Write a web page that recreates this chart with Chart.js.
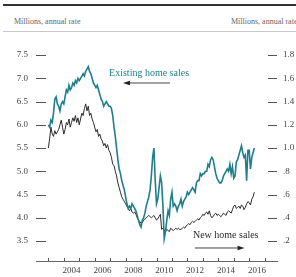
<!DOCTYPE html>
<html>
<head>
<meta charset="utf-8">
<script src="https://cdn.jsdelivr.net/npm/chart.js@4"></script>
<style>
html, body { margin: 0; padding: 0; background: #fff; }
#wrap { position: relative; width: 296px; height: 277px; overflow: hidden; }
#rule { position: absolute; left: 3px; right: 0; top: 4px; height: 2px; background: #333; }
#thin { position: absolute; left: 3px; right: 0; top: 31px; height: 1px; background: #c8c8c8; }
.unit { position: absolute; top: 17px; font: 8px "Liberation Serif", serif; color: #666; white-space: nowrap; }
canvas { position: absolute; left: 0; top: 0; }
</style>
</head>
<body>
<div id="wrap">
  <div id="rule"></div>
  <div class="unit" style="left:14px">Millions, annual rate</div>
  <div class="unit" style="left:231px">Millions, annual rate</div>
  <div id="thin"></div>
  <canvas id="salesChart" width="296" height="277"></canvas>
</div>
<script>
// ---------------- DATA ----------------

// monthly, starting January 2003
const firstYear = 2003;

// existing home sales, millions (left axis)
const existingSales = [
    6.00, 5.95, 6.10, 6.05, 6.25, 6.55, 6.60, 6.45, 6.40, 6.30, 6.45, 6.50,
    6.45, 6.60, 6.75, 6.70, 6.85, 6.75, 6.80, 6.90, 6.85, 6.95, 6.90, 7.00,
    6.95, 7.00, 7.05, 7.10, 7.05, 7.15, 7.20, 7.25, 7.15, 7.10, 7.00, 6.90,
    6.85, 6.80, 6.85, 6.75, 6.65, 6.55, 6.50, 6.40, 6.45, 6.50, 6.45, 6.40,
    6.40, 6.35, 6.20, 5.95, 5.75, 5.50, 5.25, 5.05, 4.95, 4.80, 4.70, 4.60,
    4.45, 4.30, 4.20, 4.25, 4.20, 4.30, 4.25, 4.20, 4.15, 4.05, 3.95, 3.85,
    3.80, 3.95, 4.00, 4.10, 4.25, 4.35, 4.45, 4.60, 4.90, 5.30, 5.50, 4.80,
    4.30, 4.40, 4.65, 4.90, 4.75, 4.25, 3.55, 3.70, 3.95, 4.15, 4.05, 4.40,
    4.55, 4.25, 4.30, 4.25, 4.15, 4.25, 4.30, 4.40, 4.25, 4.35, 4.40, 4.45,
    4.55, 4.50, 4.55, 4.60, 4.65, 4.60, 4.55, 4.75, 4.80, 4.80, 4.95, 4.90,
    4.95, 4.95, 5.00, 5.00, 5.15, 5.10, 5.25, 5.30, 5.25, 5.10, 4.95, 4.85,
    4.80, 4.75, 4.75, 4.80, 4.90, 4.95, 5.00, 5.05, 5.00, 5.15, 4.95, 5.10,
    4.85, 4.90, 5.20, 5.25, 5.35, 5.45, 5.55, 5.40, 5.30, 5.35, 4.80, 5.45,
    5.45, 5.05, 5.30, 5.40, 5.50
];

// new home sales, millions (right axis)
const newSales = [
    1.00, 1.08, 1.18, 1.12, 1.10, 1.15, 1.12, 1.14, 1.16, 1.20, 1.24, 1.18,
    1.12, 1.16, 1.22, 1.20, 1.25, 1.18, 1.22, 1.26, 1.23, 1.28, 1.22, 1.26,
    1.20, 1.25, 1.30, 1.28, 1.34, 1.38, 1.32, 1.36, 1.28, 1.30, 1.25, 1.22,
    1.18, 1.14, 1.16, 1.10, 1.12, 1.08, 1.06, 1.02, 1.04, 1.00, 1.03, 0.98,
    0.96, 0.92, 0.86, 0.85, 0.80, 0.76, 0.70, 0.66, 0.62, 0.58, 0.56, 0.54,
    0.52, 0.50, 0.48, 0.46, 0.48, 0.45, 0.44, 0.45, 0.43, 0.40, 0.38, 0.37,
    0.35, 0.36, 0.38, 0.39, 0.40, 0.41, 0.42, 0.41, 0.40, 0.41, 0.42, 0.40,
    0.38, 0.39, 0.41, 0.43, 0.30, 0.31, 0.29, 0.28, 0.30, 0.29, 0.28, 0.31,
    0.30, 0.29, 0.30, 0.31, 0.30, 0.31, 0.30, 0.30, 0.31, 0.32, 0.31, 0.33,
    0.34, 0.35, 0.34, 0.36, 0.37, 0.36, 0.37, 0.38, 0.39, 0.38, 0.40, 0.41,
    0.43, 0.42, 0.44, 0.45, 0.43, 0.46, 0.42, 0.40, 0.41, 0.43, 0.44, 0.42,
    0.43, 0.42, 0.41, 0.42, 0.44, 0.43, 0.42, 0.45, 0.46, 0.45, 0.44, 0.47,
    0.50, 0.51, 0.48, 0.49, 0.50, 0.48, 0.51, 0.50, 0.47, 0.49, 0.52, 0.54,
    0.53, 0.51, 0.56, 0.58, 0.62
];

const yearLabels = [2004, 2006, 2008, 2010, 2012, 2014, 2016];
const yearTicks = [2003, 2004, 2005, 2006, 2007, 2008, 2009, 2010, 2011, 2012, 2013, 2014, 2015, 2016, 2017];
const leftTicks = [3.5, 4.0, 4.5, 5.0, 5.5, 6.0, 6.5, 7.0, 7.5];
const rightTicks = [0.2, 0.4, 0.6, 0.8, 1.0, 1.2, 1.4, 1.6, 1.8];


// ---------------- SETUP ----------------

const teal = "#1e7e8c";
const ink = "#2b2b2b";
const tickFont = { family: "'Liberation Serif', serif", size: 9 };

const monthX = existingSales.map((v, i) => firstYear + i / 12);

function arrow(ctx, x1, x2, y) {
    const dir = x2 > x1 ? 1 : -1;
    ctx.beginPath();
    ctx.moveTo(x1, y);
    ctx.lineTo(x2 - dir * 5, y);
    ctx.stroke();
    ctx.beginPath();
    ctx.moveTo(x2, y);
    ctx.lineTo(x2 - dir * 7, y - 2.2);
    ctx.lineTo(x2 - dir * 7, y + 2.2);
    ctx.closePath();
    ctx.fill();
}

const decor = {
    id: "decor",
    afterDraw(chart) {
        const { ctx, chartArea: a } = chart;
        const { x, yL, yR } = chart.scales;
        ctx.save();
        ctx.strokeStyle = "#555";
        ctx.lineWidth = 1;

        // dash tick marks inside the plot
        leftTicks.forEach(v => {
            const py = Math.round(yL.getPixelForValue(v)) + 0.5;
            ctx.beginPath(); ctx.moveTo(a.left, py); ctx.lineTo(a.left + 10, py); ctx.stroke();
        });
        rightTicks.forEach(v => {
            const py = Math.round(yR.getPixelForValue(v)) + 0.5;
            ctx.beginPath(); ctx.moveTo(a.right - 9, py); ctx.lineTo(a.right, py); ctx.stroke();
        });
        yearTicks.forEach(v => {
            const px = Math.round(x.getPixelForValue(v)) + 0.5;
            ctx.beginPath(); ctx.moveTo(px, a.bottom); ctx.lineTo(px, a.bottom - 3); ctx.stroke();
        });

        // labels
        ctx.font = "10px 'Liberation Serif', serif";
        ctx.textBaseline = "middle";
        ctx.fillStyle = teal;
        ctx.fillText("Existing home sales", x.getPixelForValue(2006.93), yL.getPixelForValue(7.11));
        ctx.fillStyle = ink;
        ctx.fillText("New home sales", x.getPixelForValue(2012.36), yL.getPixelForValue(3.63));

        ctx.strokeStyle = "#444";
        ctx.fillStyle = "#222";
        arrow(ctx, x.getPixelForValue(2010.87), x.getPixelForValue(2007.83), yL.getPixelForValue(6.9));
        arrow(ctx, x.getPixelForValue(2012.49), x.getPixelForValue(2015.7), yL.getPixelForValue(3.35));
        ctx.restore();
    }
};


// ---------------- CHART ----------------

new Chart(document.getElementById("salesChart"), {
    type: "line",
    data: {
        datasets: [{
            label: "Existing home sales",
            data: existingSales.map((v, i) => ({ x: monthX[i], y: v })),
            yAxisID: "yL",
            borderColor: teal,
            borderWidth: 1.6,
            pointRadius: 0,
            tension: 0
        }, {
            label: "New home sales",
            data: newSales.map((v, i) => ({ x: monthX[i], y: v })),
            yAxisID: "yR",
            borderColor: ink,
            borderWidth: 1,
            pointRadius: 0,
            tension: 0
        }]
    },
    options: {
        responsive: false,
        animation: false,
        layout: { padding: { top: 30, left: 0, right: 0, bottom: 0 } },
        plugins: { legend: { display: false }, tooltip: { enabled: false } },
        scales: {
            x: {
                type: "linear",
                min: 2002.2,
                max: 2017.8,
                afterBuildTicks: s => { s.ticks = yearLabels.map(v => ({ value: v + 0.5 })); },
                afterFit: s => { s.height = 16; },
                ticks: {
                    callback: v => String(Math.floor(v)),
                    autoSkip: false, maxRotation: 0, padding: 4,
                    font: tickFont, color: "#444"
                },
                grid: { display: false, drawTicks: false },
                border: { display: true, color: "#666", width: 1 }
            },
            yL: {
                position: "left",
                min: 3.07,
                max: 8.04,
                afterBuildTicks: s => { s.ticks = leftTicks.map(v => ({ value: v })); },
                afterFit: s => { s.width = 36; },
                ticks: { callback: v => v.toFixed(1), padding: 8, font: tickFont, color: "#444" },
                grid: { display: false, drawTicks: false },
                border: { display: false }
            },
            yR: {
                position: "right",
                min: 0.028,
                max: 2.016,
                afterBuildTicks: s => { s.ticks = rightTicks.map(v => ({ value: v })); },
                afterFit: s => { s.width = 19; },
                ticks: {
                    callback: v => v >= 1 ? v.toFixed(1) : v.toFixed(1).slice(1),
                    padding: 6, font: tickFont, color: "#444"
                },
                grid: { display: false, drawTicks: false },
                border: { display: false }
            }
        }
    },
    plugins: [decor]
});
</script>
</body>
</html>
